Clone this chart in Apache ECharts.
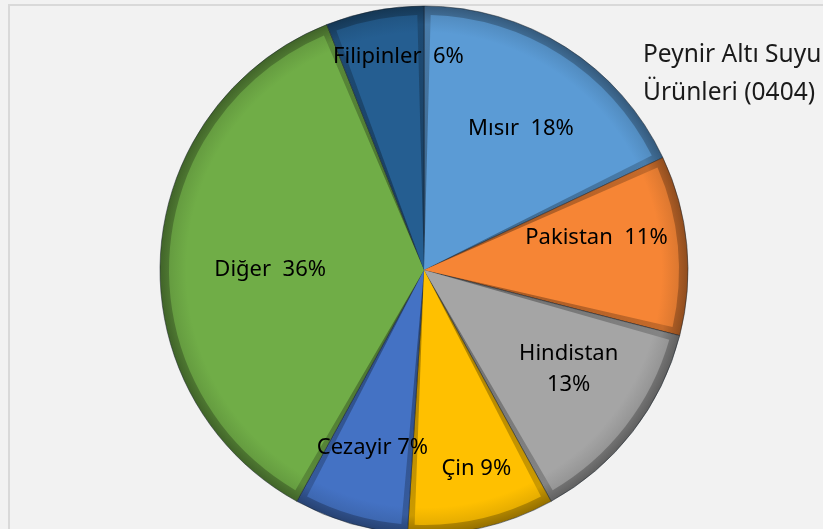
<!DOCTYPE html>
<html>
<head>
<meta charset="utf-8">
<script src="https://cdn.jsdelivr.net/npm/echarts@6/dist/echarts.min.js"></script>
<style>
  html, body { margin: 0; padding: 0; background: #f2f2f2; overflow: hidden; }
  #frame { position: absolute; left: 8px; top: 4px; width: 830px; height: 540px; border: 2px solid #d9d9d9; box-sizing: border-box; }
  #chart { position: absolute; left: 0; top: 0; width: 823px; height: 529px; }
</style>
</head>
<body>
<div id="frame"></div>
<div id="chart"></div>
<script>
// ülkeler ve payları (%)
const countries = ["Mısır", "Pakistan", "Hindistan", "Çin", "Cezayir", "Diğer", "Filipinler"];
const shares = [18, 11, 13, 9, 7, 36, 6];
const colors = ["#5b9bd5", "#f68535", "#a5a5a5", "#ffc000", "#4472c4", "#70ad47", "#255e91"];
const labelTexts = ["Mısır  18%", "Pakistan  11%", "Hindistan\n13%", "Çin 9%", "Cezayir 7%", "Diğer  36%", "Filipinler  6%"];
// etiketin merkezden uzaklığı (yarıçap oranı) ve küçük kaydırmalar (px)
const labelDist = [0.65, 0.66, 0.66, 0.77, 0.70, 0.58, 0.82];
const labelNudgeX = [5, -1, 7, 8, 0, -1, 15];
const labelNudgeY = [4, -16, -8, 0, 0, 9, -1];
const titleLines = ["Peynir Altı Suyu", "Ürünleri (0404)"];

const CX = 424, CY = 270, R = 264;

const chart = echarts.init(document.getElementById("chart"));

// rengi koyulaştır (f < 1)
const darken = (c, f) => {
  const rgb = echarts.color.parse(c);
  return "rgb(" + [0, 1, 2].map((k) => Math.round(rgb[k] * f)).join(",") + ")";
};

// dilimlerin orta açıları (saat 12'den saat yönünde)
const total = shares.reduce((a, b) => a + b, 0);
const midAngles = [];
let acc = 0;
shares.forEach((v) => {
  midAngles.push(((acc + v / 2) / total) * 2 * Math.PI);
  acc += v;
});

const radial = (stops) => ({
  type: "radial",
  x: CX, y: CY, r: R,
  global: true,
  colorStops: stops,
});

const baseData = countries.map((name, i) => ({
  name,
  value: shares[i],
  itemStyle: {
    color: radial([
      { offset: 0, color: darken(colors[i], 0.62) },
      { offset: 0.93, color: darken(colors[i], 0.8) },
      { offset: 1, color: darken(colors[i], 0.58) },
    ]),
  },
}));

const topData = countries.map((name, i) => ({
  name,
  value: shares[i],
  itemStyle: {
    color: radial([
      { offset: 0, color: colors[i] },
      { offset: 0.9, color: colors[i] },
      { offset: 0.965, color: darken(colors[i], 0.9) },
    ]),
  },
}));

const option = {
  animation: false,
  title: {
    text: titleLines.join("\n"),
    left: 638,
    top: 31,
    textStyle: {
      fontFamily: "Noto Sans",
      fontSize: 24.5,
      fontWeight: "normal",
      color: "#1a1a1a",
      lineHeight: 38,
    },
  },
  series: [
    {
      type: "pie",
      center: [CX, CY],
      radius: [0, R],
      startAngle: 90,
      clockwise: true,
      silent: true,
      label: { show: false },
      labelLine: { show: false },
      itemStyle: { borderColor: "rgba(20,30,40,0.5)", borderWidth: 1 },
      data: baseData,
    },
    {
      type: "pie",
      center: [CX, CY],
      radius: [0, R - 9],
      startAngle: 90,
      clockwise: true,
      padAngle: 3,
      silent: true,
      label: {
        show: true,
        position: "inside",
        formatter: (p) => labelTexts[p.dataIndex],
        fontFamily: "Noto Sans",
        fontSize: 22,
        color: "#000",
        lineHeight: 31,
      },
      labelLayout: (p) => {
        const i = p.dataIndex;
        const a = midAngles[i];
        const d = labelDist[i] * R;
        return {
          x: CX + Math.sin(a) * d + labelNudgeX[i],
          y: CY - Math.cos(a) * d + labelNudgeY[i],
          align: "center",
          verticalAlign: "middle",
        };
      },
      labelLine: { show: false },
      data: topData,
    },
  ],
};

chart.setOption(option);
window.addEventListener("resize", () => chart.resize());
</script>
</body>
</html>
